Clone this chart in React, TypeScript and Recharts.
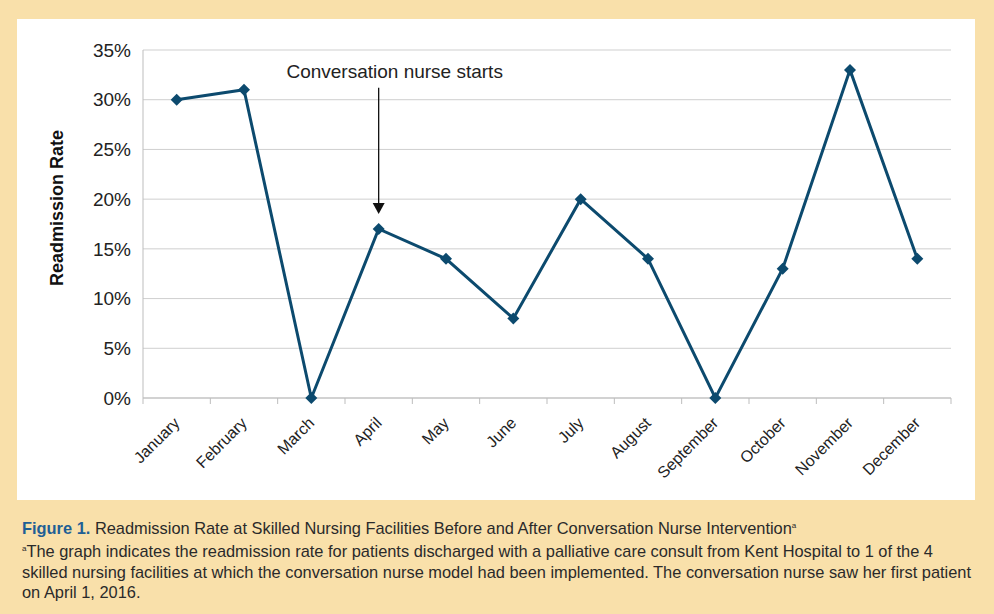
import React from "react";
import {
  LineChart,
  Line,
  XAxis,
  YAxis,
  CartesianGrid,
  ReferenceLine,
} from "recharts";

const months = [
  "January",
  "February",
  "March",
  "April",
  "May",
  "June",
  "July",
  "August",
  "September",
  "October",
  "November",
  "December",
];
const rates = [0.3, 0.31, 0, 0.17, 0.14, 0.08, 0.2, 0.14, 0, 0.13, 0.33, 0.14];
const yTicks = [0, 0.05, 0.1, 0.15, 0.2, 0.25, 0.3, 0.35];
const startMonth = "April";
const arrowTop = 0.312;
const arrowTip = 0.185;

const data = months.map((m, i) => ({ name: m, rate: rates[i] }));

const FONT = "'Liberation Sans', Arial, Helvetica, sans-serif";
const LINE = "#0c4a6e";
const AXIS = "#bdbdbd";

const CHART_W = 958;
const CHART_H = 481;
const MARGIN = { top: 31, right: 24, left: 0, bottom: 0 };
const Y_W = 126;
const PLOT_W = CHART_W - Y_W - MARGIN.right - MARGIN.left;
const HALF_BAND = PLOT_W / months.length / 2;

const Diamond = (props: any) => {
  const { cx, cy } = props;
  if (cx == null || cy == null) return null;
  const r = 6;
  return (
    <polygon
      points={`${cx},${cy - r} ${cx + r},${cy} ${cx},${cy + r} ${cx - r},${cy}`}
      fill={LINE}
    />
  );
};

const MonthTick = (props: any) => {
  const { x, y, payload, index } = props;
  const half = HALF_BAND;
  return (
    <g>
      <line x1={x - half} x2={x - half} y1={y - 8} y2={y - 2} stroke={AXIS} />
      {index === months.length - 1 && (
        <line x1={x + half} x2={x + half} y1={y - 8} y2={y - 2} stroke={AXIS} />
      )}
      <text
        transform={`translate(${x + 4},${y + 18}) rotate(-45)`}
        textAnchor="end"
        fontSize={16}
        fill="#222"
        fontFamily={FONT}
      >
        {payload.value}
      </text>
    </g>
  );
};

const ArrowShape = (props: any) => {
  const { x1, y1, x2, y2 } = props;
  if (x1 == null) return null;
  return (
    <g>
      <text
        x={x1 + 16}
        y={y1 - 10}
        textAnchor="middle"
        fontSize={19}
        fill="#222"
        fontFamily={FONT}
      >
        Conversation nurse starts
      </text>
      <line x1={x1} y1={y1} x2={x2} y2={y2 - 10} stroke="#111" strokeWidth={1.3} />
      <polygon
        points={`${x2 - 6},${y2 - 11} ${x2 + 6},${y2 - 11} ${x2},${y2}`}
        fill="#111"
      />
    </g>
  );
};

const YLabel = (props: any) => {
  const { viewBox } = props;
  const cx = 40;
  const cy = viewBox.y + viewBox.height / 2 - 16;
  return (
    <text
      transform={`translate(${cx},${cy}) rotate(-90)`}
      textAnchor="middle"
      dominantBaseline="central"
      fontSize={18}
      fontWeight="bold"
      fill="#111"
      fontFamily={FONT}
    >
      Readmission Rate
    </text>
  );
};

const capStyle: React.CSSProperties = {
  whiteSpace: "nowrap",
  lineHeight: "20.5px",
  fontSize: 16.4,
  color: "#2a2a2a",
};

export default function App() {
  return (
    <div
      style={{
        position: "absolute",
        left: 0,
        top: 0,
        width: 994,
        height: 614,
        background: "#f9e0aa",
        fontFamily: "'Liberation Sans Narrow', 'Liberation Sans', Arial, sans-serif",
      }}
    >
      <div
        style={{
          position: "absolute",
          left: 17,
          top: 19,
          width: CHART_W,
          height: CHART_H,
          background: "#fff",
        }}
      >
        <LineChart width={CHART_W} height={CHART_H} data={data} margin={MARGIN}>
          <CartesianGrid vertical={false} stroke="#cfcfcf" />
          <XAxis
            dataKey="name"
            height={102}
            interval={0}
            padding={{ left: HALF_BAND, right: HALF_BAND }}
            axisLine={{ stroke: AXIS }}
            tickLine={false}
            tick={<MonthTick />}
          />
          <YAxis
            width={Y_W}
            domain={[0, 0.35]}
            ticks={yTicks}
            interval={0}
            axisLine={{ stroke: AXIS }}
            tickLine={false}
            tickMargin={6}
            tickFormatter={(v: number) => `${Math.round(v * 100)}%`}
            tick={{ fontSize: 19, fill: "#222", fontFamily: FONT }}
            label={<YLabel />}
          />
          <ReferenceLine
            segment={[
              { x: startMonth, y: arrowTop },
              { x: startMonth, y: arrowTip },
            ]}
            shape={<ArrowShape />}
            ifOverflow="visible"
          />
          <Line
            type="linear"
            dataKey="rate"
            stroke={LINE}
            strokeWidth={3}
            dot={<Diamond />}
            activeDot={false}
            isAnimationActive={false}
          />
        </LineChart>
      </div>
      <div style={{ position: "absolute", left: 22, top: 516, ...capStyle }}>
        <div>
          <span style={{ color: "#1f5f95", fontWeight: "bold" }}>Figure 1.</span>{" "}
          Readmission Rate at Skilled Nursing Facilities Before and After Conversation
          Nurse Intervention<sup style={{ fontSize: 8 }}>a</sup>
        </div>
        <div>
          <sup style={{ fontSize: 8 }}>a</sup>The graph indicates the readmission rate for
          patients discharged with a palliative care consult from Kent Hospital to 1 of the 4
        </div>
        <div>
          skilled nursing facilities at which the conversation nurse model had been
          implemented. The conversation nurse saw her first patient
        </div>
        <div>on April 1, 2016.</div>
      </div>
    </div>
  );
}
